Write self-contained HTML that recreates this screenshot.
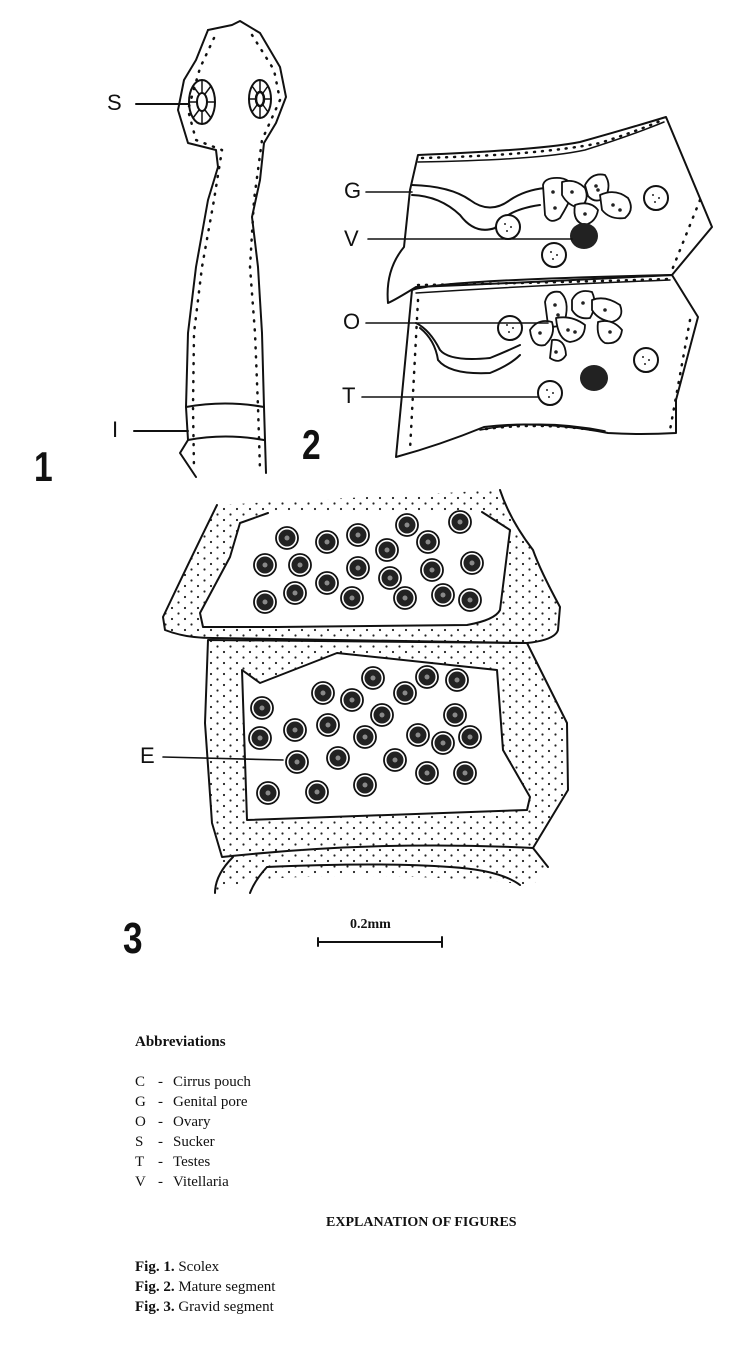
<!DOCTYPE html>
<html><head><meta charset="utf-8"><style>
html,body{margin:0;padding:0;background:#fff}
body{width:733px;height:1351px;position:relative;overflow:hidden}
.t{position:absolute;font-family:"Liberation Serif",serif;font-size:15px;color:#111;white-space:nowrap;line-height:1}
</style></head><body>
<svg width="733" height="1351" style="position:absolute;left:0;top:0" fill="none" stroke="#111" stroke-width="2" stroke-linejoin="round" stroke-linecap="round">
<defs>
<pattern id="st" width="13" height="11" patternUnits="userSpaceOnUse">
<circle cx="3" cy="3" r="1.1" fill="#222" stroke="none"/><circle cx="9.5" cy="8.5" r="1.1" fill="#222" stroke="none"/>
</pattern>
<g id="egg"><circle r="11" fill="#fff" stroke="#111" stroke-width="1.8"/><circle r="8.5" fill="#222" stroke="none"/><circle r="2.5" fill="#888" stroke="none"/></g>
<g id="ts"><circle r="12" fill="#fff"/><circle cx="-3" cy="-3" r="1" fill="#222" stroke="none"/><circle cx="3" cy="0" r="1" fill="#222" stroke="none"/><circle cx="-1" cy="4" r="1" fill="#222" stroke="none"/></g>
</defs>

<!-- Fig 1 scolex -->
<path d="M208,30 L232,25 L240,21 L260,33 L280,67 L286,97 L276,123 L264,143 L260,180 L252,217 L258,267 L262,333 L264,407 L266,473"/>
<path d="M208,30 L196,60 L184,80 L178,110 L188,143 L216,150 L218,167 L208,200 L196,267 L188,333 L186,407 L188,440 L180,453 L196,477"/>
<path d="M214,38 L200,68 L188,110 L196,140 L222,150 L214,200 L202,267 L194,333 L193,407 L194,470" stroke-dasharray="1 8" stroke-width="2.5"/>
<path d="M252,35 L274,70 L280,100 L262,140 L254,200 L250,267 L255,333 L258,407 L260,470" stroke-dasharray="1 8" stroke-width="2.5"/>
<path d="M186,407 Q225,400 264,407 M188,440 Q225,433 264,440"/>
<ellipse cx="202" cy="102" rx="13" ry="22"/>
<ellipse cx="202" cy="102" rx="5" ry="9"/>
<path d="M202,80 L202,93 M202,111 L202,124 M189,102 L197,102 M207,102 L215,102 M193,86 L199,94 M211,86 L205,94 M193,118 L199,110 M211,118 L205,110" stroke-width="1.5"/>
<ellipse cx="260" cy="99" rx="11" ry="19"/>
<ellipse cx="260" cy="99" rx="4" ry="7" stroke-width="2.5"/>
<path d="M260,80 L260,92 M260,106 L260,118 M249,99 L256,99 M264,99 L271,99 M252,86 L257,93 M268,86 L263,93 M252,112 L257,105 M268,112 L263,105" stroke-width="1.5"/>
<path d="M136,104 L188,104 M134,431 L188,431"/>

<!-- Fig 2 -->
<path d="M418,155 Q540,150 580,142 Q630,128 666,117 L712,227 L672,275 Q540,282 416,287 Q395,300 388,303 Q385,270 404,247 L410,190 Z"/>
<path d="M418,162 Q540,160 585,150 Q630,136 664,122" stroke-width="1.5"/>
<path d="M422,158 Q540,155 600,143 Q640,130 660,121" stroke-dasharray="1 7" stroke-width="2.5"/>
<path d="M412,290 Q440,280 672,275 L698,317 L676,400 L676,433 Q640,435 608,433 Q540,420 484,427 Q440,445 396,457 L412,290 Z"/>
<path d="M416,293 Q540,285 670,280" stroke-width="1.5"/>
<path d="M480,430 Q540,418 605,431" stroke-width="1.5"/>
<path d="M418,300 L410,450 M700,200 L672,270 M690,320 L670,430" stroke-dasharray="1 8" stroke-width="2.5"/>
<path d="M418,285 Q540,283 668,279 M486,429 Q540,422 600,431" stroke-dasharray="1 7" stroke-width="2.5"/>
<path d="M412,185 Q450,186 470,200 Q490,215 510,200 Q525,190 545,188"/>
<path d="M412,195 Q440,196 460,215 Q475,235 495,228 Q505,210 540,205"/>
<path d="M416,323 Q430,330 440,350 Q450,362 490,358 Q505,352 520,345"/>
<path d="M420,328 Q435,340 438,360 Q450,375 490,373 Q510,365 520,355"/>
<g fill="#fff" stroke-width="1.8">
<path d="M543,185 Q545,177 560,178 Q575,180 572,195 Q568,205 560,218 Q550,225 545,215 Z"/>
<path d="M562,182 Q575,178 585,188 Q590,200 580,208 Q568,206 562,195 Z"/>
<path d="M585,185 Q592,172 605,175 Q612,185 605,198 Q595,204 588,196 Z"/>
<path d="M600,195 Q615,188 628,198 Q635,210 625,218 Q610,220 602,210 Z"/>
<path d="M575,205 Q590,200 598,210 Q596,222 585,225 Q572,222 575,205 Z"/>
</g>
<g fill="#fff" stroke-width="1.8">
<path d="M545,302 Q548,290 560,292 Q570,300 565,320 Q558,330 548,325 Z"/>
<path d="M572,300 Q578,288 592,292 Q598,305 590,318 Q578,320 572,310 Z"/>
<path d="M592,300 Q605,295 620,305 Q625,318 612,322 Q598,320 592,310 Z"/>
<path d="M530,330 Q538,318 552,322 Q556,335 545,345 Q532,348 530,330 Z"/>
<path d="M556,318 Q572,315 585,325 Q585,340 570,342 Q558,340 556,318 Z"/>
<path d="M598,322 Q612,318 622,330 Q620,345 605,343 Q596,338 598,322 Z"/>
<path d="M552,340 Q565,338 566,355 Q560,365 550,358 Z"/>
</g>
<g fill="#222" stroke="none">
<circle cx="553" cy="192" r="1.8"/><circle cx="555" cy="208" r="1.8"/><circle cx="572" cy="192" r="1.8"/><circle cx="596" cy="186" r="1.8"/><circle cx="613" cy="205" r="1.8"/><circle cx="620" cy="210" r="1.8"/><circle cx="585" cy="214" r="1.8"/><circle cx="598" cy="190" r="1.8"/>
<circle cx="555" cy="305" r="1.8"/><circle cx="583" cy="303" r="1.8"/><circle cx="605" cy="310" r="1.8"/><circle cx="540" cy="333" r="1.8"/><circle cx="568" cy="330" r="1.8"/><circle cx="575" cy="332" r="1.8"/><circle cx="610" cy="332" r="1.8"/><circle cx="556" cy="352" r="1.8"/><circle cx="558" cy="315" r="1.8"/>
<ellipse cx="584" cy="236" rx="14" ry="13"/>
<ellipse cx="594" cy="378" rx="14" ry="13"/>
</g>
<use href="#ts" x="508" y="227"/><use href="#ts" x="656" y="198"/><use href="#ts" x="554" y="255"/>
<use href="#ts" x="510" y="328"/><use href="#ts" x="646" y="360"/><use href="#ts" x="550" y="393"/>
<path d="M366,192 L412,192 M368,239 L572,239 M366,323 L548,323 M362,397 L538,397" stroke-width="1.6"/>

<!-- Fig 3 -->
<path d="M217,505 Q190,560 163,617 L165,630 Q185,638 213,638 L527,643 Q555,640 558,630 L560,607 Q540,570 533,550 Q510,520 500,490 Z" fill="url(#st)" stroke="none"/>
<path d="M217,505 Q190,560 163,617 L165,630 Q185,638 213,638 L527,643 Q555,640 558,630 L560,607 Q540,570 533,550 Q510,520 500,490"/>
<path d="M268,513 L240,523 L230,557 L200,613 L203,627 Q240,627 277,627 L467,625 Q495,620 500,610 L510,530 L482,512" fill="#fff"/>
<path d="M208,640 L527,643 L567,723 L568,790 L533,848 Q380,840 222,857 L212,823 L205,723 Z" fill="url(#st)"/>
<path d="M242,670 L260,683 L337,653 L497,670 L503,750 L530,797 L527,810 L247,820 Z" fill="#fff"/>
<path d="M222,857 Q240,840 533,848 L548,867 L533,885 Q380,870 250,880 L215,893 Z" fill="url(#st)" stroke="none"/>
<path d="M233,857 Q215,875 215,893 M267,867 Q255,880 250,893 M267,867 Q380,862 450,867 Q500,870 520,885 M533,848 L548,867"/>
<use href="#egg" x="287" y="538"/><use href="#egg" x="327" y="542"/><use href="#egg" x="358" y="535"/><use href="#egg" x="407" y="525"/><use href="#egg" x="460" y="522"/><use href="#egg" x="387" y="550"/><use href="#egg" x="428" y="542"/><use href="#egg" x="265" y="565"/><use href="#egg" x="300" y="565"/><use href="#egg" x="358" y="568"/><use href="#egg" x="390" y="578"/><use href="#egg" x="432" y="570"/><use href="#egg" x="472" y="563"/><use href="#egg" x="295" y="593"/><use href="#egg" x="327" y="583"/><use href="#egg" x="352" y="598"/><use href="#egg" x="405" y="598"/><use href="#egg" x="443" y="595"/><use href="#egg" x="470" y="600"/><use href="#egg" x="265" y="602"/>
<use href="#egg" x="373" y="678"/><use href="#egg" x="427" y="677"/><use href="#egg" x="457" y="680"/><use href="#egg" x="323" y="693"/><use href="#egg" x="352" y="700"/><use href="#egg" x="405" y="693"/><use href="#egg" x="262" y="708"/><use href="#egg" x="382" y="715"/><use href="#egg" x="455" y="715"/><use href="#egg" x="295" y="730"/><use href="#egg" x="328" y="725"/><use href="#egg" x="260" y="738"/><use href="#egg" x="365" y="737"/><use href="#egg" x="418" y="735"/><use href="#egg" x="443" y="743"/><use href="#egg" x="470" y="737"/><use href="#egg" x="297" y="762"/><use href="#egg" x="338" y="758"/><use href="#egg" x="395" y="760"/><use href="#egg" x="427" y="773"/><use href="#egg" x="465" y="773"/><use href="#egg" x="268" y="793"/><use href="#egg" x="317" y="792"/><use href="#egg" x="365" y="785"/>
<path d="M163,757 L283,760" stroke-width="1.6"/>
<path d="M318,942 L442,942 M318,938 L318,946 M442,937 L442,947" stroke-width="2"/>
</svg>

<div class="t" style="left:107px;top:92px;font-family:'Liberation Sans',sans-serif;font-size:22px">S</div>
<div class="t" style="left:112px;top:419px;font-family:'Liberation Sans',sans-serif;font-size:22px">I</div>
<div class="t" style="left:34px;top:446px;font-family:'Liberation Sans',sans-serif;font-size:42px;font-weight:bold;transform:scaleX(0.8);transform-origin:left">1</div>
<div class="t" style="left:302px;top:424px;font-family:'Liberation Sans',sans-serif;font-size:42px;font-weight:bold;transform:scaleX(0.8);transform-origin:left">2</div>
<div class="t" style="left:344px;top:180px;font-family:'Liberation Sans',sans-serif;font-size:22px">G</div>
<div class="t" style="left:344px;top:228px;font-family:'Liberation Sans',sans-serif;font-size:22px">V</div>
<div class="t" style="left:343px;top:311px;font-family:'Liberation Sans',sans-serif;font-size:22px">O</div>
<div class="t" style="left:342px;top:385px;font-family:'Liberation Sans',sans-serif;font-size:22px">T</div>
<div class="t" style="left:140px;top:745px;font-family:'Liberation Sans',sans-serif;font-size:22px">E</div>
<div class="t" style="left:123px;top:917px;font-family:'Liberation Sans',sans-serif;font-size:44px;font-weight:bold;transform:scaleX(0.8);transform-origin:left">3</div>
<div class="t" style="left:350px;top:918px;font-size:14px;font-weight:bold">0.2mm</div>

<div class="t" style="left:135px;top:1035px;font-weight:bold;font-size:15px">Abbreviations</div>
<div class="t" style="left:135px;top:1075px">C</div><div class="t" style="left:158px;top:1075px">-</div><div class="t" style="left:173px;top:1075px">Cirrus pouch</div>
<div class="t" style="left:135px;top:1095px">G</div><div class="t" style="left:158px;top:1095px">-</div><div class="t" style="left:173px;top:1095px">Genital pore</div>
<div class="t" style="left:135px;top:1115px">O</div><div class="t" style="left:158px;top:1115px">-</div><div class="t" style="left:173px;top:1115px">Ovary</div>
<div class="t" style="left:135px;top:1135px">S</div><div class="t" style="left:158px;top:1135px">-</div><div class="t" style="left:173px;top:1135px">Sucker</div>
<div class="t" style="left:135px;top:1155px">T</div><div class="t" style="left:158px;top:1155px">-</div><div class="t" style="left:173px;top:1155px">Testes</div>
<div class="t" style="left:135px;top:1175px">V</div><div class="t" style="left:158px;top:1175px">-</div><div class="t" style="left:173px;top:1175px">Vitellaria</div>
<div class="t" style="left:326px;top:1216px;font-weight:bold;font-size:14px">EXPLANATION OF FIGURES</div>
<div class="t" style="left:135px;top:1260px"><b>Fig. 1.</b> Scolex</div>
<div class="t" style="left:135px;top:1280px"><b>Fig. 2.</b> Mature segment</div>
<div class="t" style="left:135px;top:1300px"><b>Fig. 3.</b> Gravid segment</div>
</body></html>
